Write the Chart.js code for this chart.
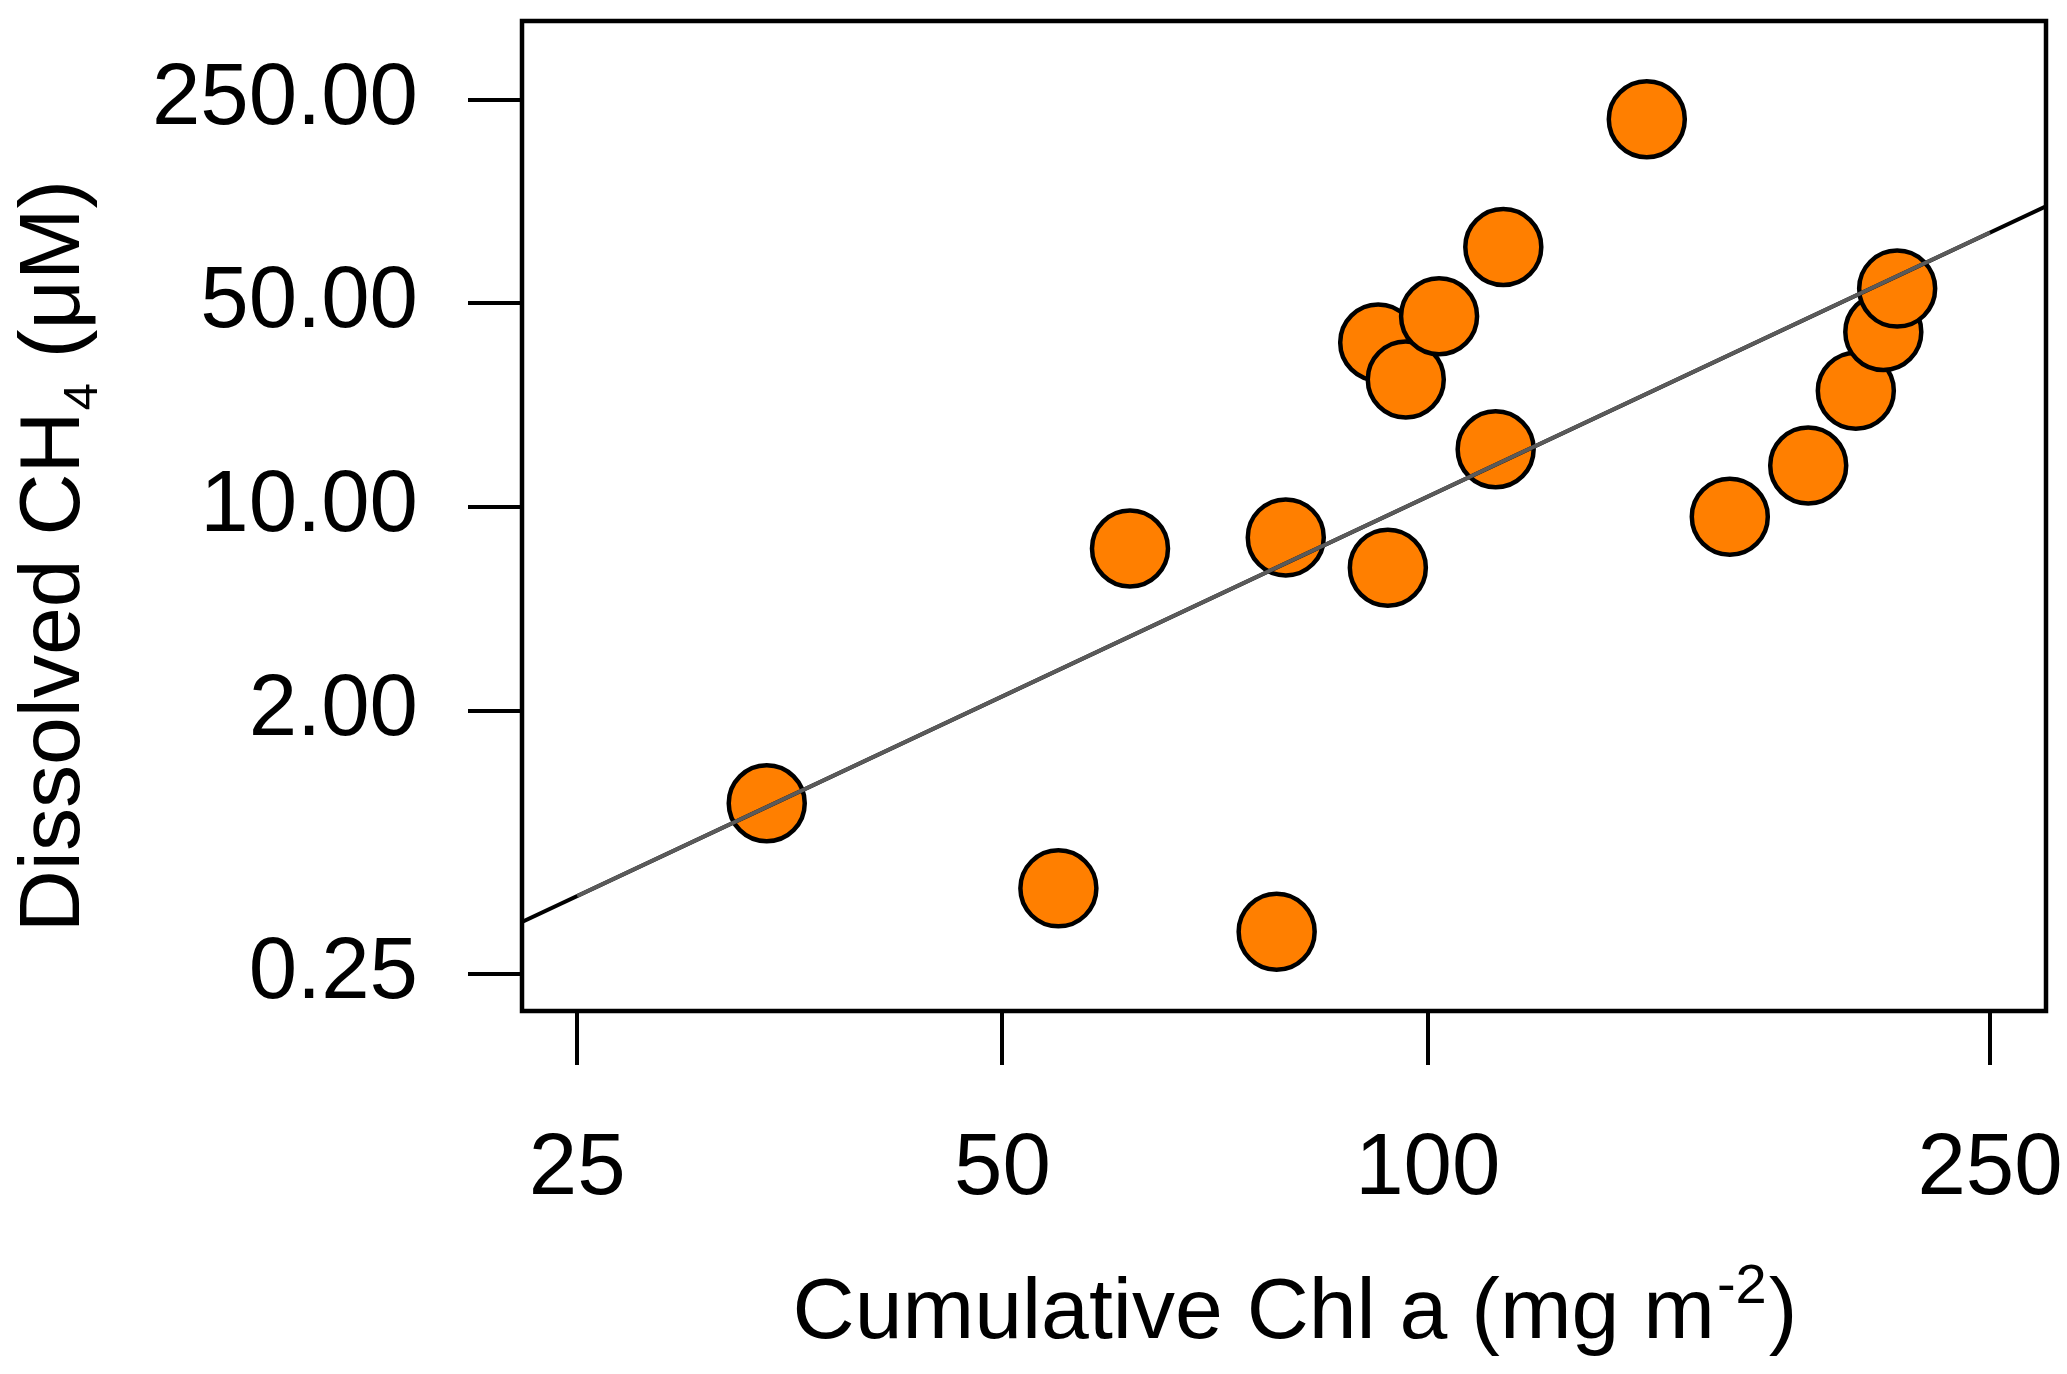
<!DOCTYPE html>
<html>
<head>
<meta charset="utf-8">
<script src="https://cdn.jsdelivr.net/npm/chart.js@4.4.1/dist/chart.umd.min.js"></script>
<style>
  html, body { margin: 0; padding: 0; background: #fff; }
  #wrap { width: 2067px; height: 1374px; }
</style>
</head>
<body>
<div id="wrap"><canvas id="myChart" width="2067" height="1374"></canvas></div>
<script>
// cumulative Chl a (mg m-2) and dissolved CH4 (uM), one pair per site
let chlA = [34.05, 54.77, 78.17, 61.55, 79.34, 93.70, 92.24, 96.48, 101.86, 113.1, 111.7, 142.9, 163.6, 185.9, 200.9, 210.1, 214.9];
let ch4 = [0.965, 0.493, 0.350, 7.22, 7.88, 6.20, 36.7, 27.4, 45.2, 78.1, 15.8, 214.0, 9.27, 13.9, 25.1, 39.9, 56.2];

// fitted log-log line: full width (black) and fitted range (grey)
let fitX = [22.85, 273.9];
let fitY = [0.378, 107.7];
let fitRangeX = [25, 250];
let fitRangeY = [0.464, 87.5];

let xTicks = [25, 50, 100, 250];
let yTicks = [0.25, 2, 10, 50, 250];

const FONT = '"Liberation Sans", Arial, Helvetica, sans-serif';

function pairs(xs, ys) {
  return xs.map((x, i) => ({ x: x, y: ys[i] }));
}

function noPad(s) {
  s.paddingLeft = 0;
  s.paddingRight = 0;
  s.paddingTop = 0;
  s.paddingBottom = 0;
}

// box around plot + axis titles with sub/superscripts
const framePlugin = {
  id: "frame",
  afterDraw(chart) {
    const ctx = chart.ctx;
    const a = chart.chartArea;
    ctx.save();
    ctx.strokeStyle = "#000";
    ctx.lineWidth = 4.5;
    ctx.strokeRect(a.left, a.top, a.right - a.left, a.bottom - a.top);

    ctx.fillStyle = "#000";
    ctx.textBaseline = "alphabetic";
    ctx.textAlign = "left";
    const big = "86px " + FONT;
    const small = "56px " + FONT;
    const sub = "49px " + FONT;

    // x title
    const p1 = "Cumulative Chl a (mg m", p2 = "-2", p3 = ")";
    ctx.font = big;
    const w1 = ctx.measureText(p1).width, w3 = ctx.measureText(p3).width;
    ctx.font = small;
    const w2 = ctx.measureText(p2).width;
    let x0 = 1293 - (w1 + w2 + w3) / 2;
    const base = 1338;
    ctx.font = big; ctx.fillText(p1, x0, base);
    ctx.font = small; ctx.fillText(p2, x0 + w1 + 2, base - 35);
    ctx.font = big; ctx.fillText(p3, x0 + w1 + w2 + 4, base);

    // y title
    const q1 = "Dissolved CH", q2 = "4", q3 = " (μM)";
    ctx.font = big;
    const v1 = ctx.measureText(q1).width, v3 = ctx.measureText(q3).width;
    ctx.font = sub;
    const v2 = ctx.measureText(q2).width;
    ctx.translate(79, 557);
    ctx.rotate(-Math.PI / 2);
    let s0 = -(v1 + v2 + v3) / 2;
    ctx.font = big; ctx.fillText(q1, s0, 0);
    ctx.font = sub; ctx.fillText(q2, s0 + v1 + 1, 18);
    ctx.font = big; ctx.fillText(q3, s0 + v1 + v2 + 2, 0);
    ctx.restore();
  }
};

let ctx = document.getElementById("myChart").getContext("2d");

let chart = new Chart(ctx, {
  type: "scatter",
  data: {
    datasets: [
      {
        type: "line",
        data: pairs(fitRangeX, fitRangeY),
        borderColor: "#5a5a5a",
        borderWidth: 4,
        pointRadius: 0,
        fill: false,
        order: 0
      },
      {
        type: "line",
        data: pairs(fitX, fitY),
        borderColor: "#000",
        borderWidth: 4,
        pointRadius: 0,
        fill: false,
        order: 1
      },
      {
        data: pairs(chlA, ch4),
        backgroundColor: "#FF7F00",
        borderColor: "#000",
        borderWidth: 4.5,
        pointRadius: 38,
        pointHoverRadius: 38,
        order: 2
      }
    ]
  },
  options: {
    responsive: false,
    devicePixelRatio: 1,
    animation: false,
    events: [],
    layout: { autoPadding: false, padding: { left: 0, right: 21, top: 21, bottom: 0 } },
    plugins: {
      legend: { display: false },
      tooltip: { enabled: false },
      title: { display: false }
    },
    scales: {
      x: {
        type: "logarithmic",
        min: 22.85,
        max: 273.9,
        afterBuildTicks: s => { s.ticks = xTicks.map(v => ({ value: v })); },
        afterFit: s => { s.height = 363; noPad(s); },
        ticks: {
          callback: v => String(v),
          font: { family: FONT, size: 87 },
          color: "#000",
          padding: 53,
          maxRotation: 0,
          autoSkip: false
        },
        grid: {
          drawOnChartArea: false,
          drawTicks: true,
          tickLength: 54,
          color: "#000",
          lineWidth: 4
        },
        border: { display: false }
      },
      y: {
        type: "logarithmic",
        min: 0.1872,
        max: 465,
        afterBuildTicks: s => { s.ticks = yTicks.map(v => ({ value: v })); },
        afterFit: s => { s.width = 522; noPad(s); },
        ticks: {
          callback: v => Number(v).toFixed(2),
          font: { family: FONT, size: 87 },
          color: "#000",
          padding: 50,
          autoSkip: false
        },
        grid: {
          drawOnChartArea: false,
          drawTicks: true,
          tickLength: 54,
          color: "#000",
          lineWidth: 4
        },
        border: { display: false }
      }
    }
  },
  plugins: [framePlugin]
});
</script>
</body>
</html>
